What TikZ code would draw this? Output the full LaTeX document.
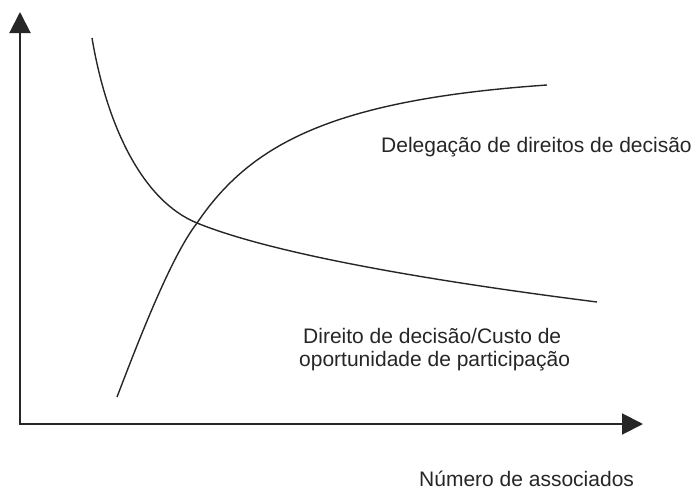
\documentclass[tikz,border=0pt]{standalone}
\usepackage{fontspec}
\setmainfont{Liberation Sans}
\usetikzlibrary{arrows.meta}
\begin{document}
\begin{tikzpicture}[x=1pt,y=-1pt,
  axis/.style={line width=2pt,color=black!85,-{Triangle[length=21pt,width=21pt]}},
  curve/.style={line width=1.4pt,color=black!85},
  lbl/.style={font=\fontsize{21}{22.7}\selectfont,inner sep=0pt,color=black!85}]
\useasboundingbox (0,0) rectangle (694,490);
\coordinate (O) at (20,424);
\coordinate (ytop) at (20,12);
\coordinate (xend) at (643,424);
\coordinate (X) at (197,223);
\draw[axis] (O) -- (ytop);
\draw[axis] ([xshift=-1pt]O) -- (xend);
% decreasing curve
\draw[curve] (92,38) .. controls (107,127) and (143,201) .. (X)
  .. controls (278,256) and (447,283) .. (597,302);
% increasing curve
\draw[curve] (117,397) .. controls (137,345) and (170,258) .. (X)
  .. controls (250,145) and (330,100) .. (547,85);
\node[lbl,anchor=base west] (d) at (381,152) {Delegação de direitos de decisão};
\node[lbl,anchor=base west] (c1) at (303,343) {Direito de decisão/Custo de};
\node[lbl,anchor=base west] (c2) at (299,366) {oportunidade de participação};
\node[lbl,anchor=base west] (n) at (419,486) {Número de associados};
\end{tikzpicture}
\end{document}
